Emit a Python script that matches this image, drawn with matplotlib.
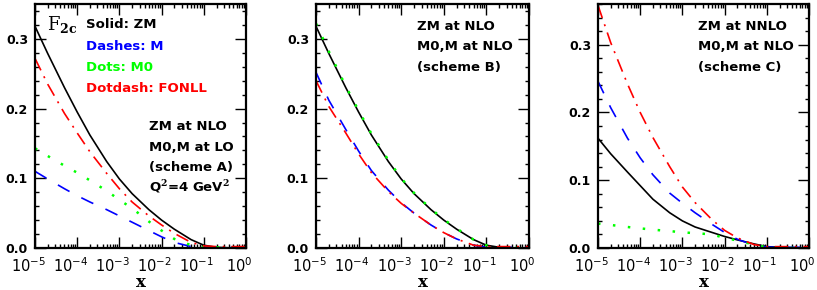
import numpy as np
import matplotlib
matplotlib.use("Agg")
import matplotlib.pyplot as plt
import matplotlib.transforms as mtransforms
from matplotlib.ticker import LogLocator, MultipleLocator, LogFormatterMathtext, NullFormatter, FormatStrFormatter

plt.rcParams['mathtext.fontset'] = 'dejavuserif'

# x grid (values read at these points)
x = [1e-5, 2e-5, 5e-5, 1e-4, 2e-4, 5e-4, 1e-3, 2e-3, 5e-3, 1e-2, 2e-2, 5e-2, 0.1, 0.2, 0.5, 1.0]

# panel A: ZM at NLO, M0/M at LO
zm_nlo = [0.318, 0.279, 0.230, 0.195, 0.162, 0.124, 0.099, 0.078, 0.055, 0.040, 0.027, 0.012, 0.004, 0.001, 0.0, 0.0]
m_lo = [0.110, 0.099, 0.085, 0.075, 0.066, 0.055, 0.046, 0.037, 0.025, 0.016, 0.008, 0.002, 0.001, 0.001, 0.001, 0.001]
m0_lo = [0.143, 0.132, 0.118, 0.108, 0.097, 0.082, 0.069, 0.057, 0.038, 0.025, 0.013, 0.004, 0.001, 0.001, 0.001, 0.001]
fonll_a = [0.272, 0.235, 0.193, 0.165, 0.138, 0.107, 0.085, 0.066, 0.046, 0.033, 0.021, 0.008, 0.003, 0.002, 0.002, 0.002]

# panel B: ZM at NLO, M0/M at NLO
m_nlo = [0.252, 0.212, 0.170, 0.139, 0.111, 0.083, 0.065, 0.050, 0.033, 0.022, 0.013, 0.004, 0.001, 0.001, 0.001, 0.001]
m0_nlo = [0.322, 0.282, 0.232, 0.197, 0.164, 0.126, 0.100, 0.079, 0.056, 0.041, 0.028, 0.012, 0.004, 0.001, 0.0, 0.0]
fonll_b = [0.240, 0.203, 0.165, 0.135, 0.108, 0.081, 0.064, 0.050, 0.033, 0.022, 0.013, 0.004, 0.002, 0.002, 0.002, 0.002]

# panel C: ZM at NNLO, M0/M at NLO
zm_nnlo = [0.162, 0.139, 0.112, 0.092, 0.072, 0.052, 0.040, 0.031, 0.023, 0.017, 0.012, 0.006, 0.002, 0.001, 0.0, 0.0]
m_nlo_c = [0.246, 0.207, 0.162, 0.133, 0.108, 0.081, 0.066, 0.052, 0.035, 0.023, 0.013, 0.004, 0.0015, 0.001, 0.001, 0.001]
m0_nlo_c = [0.036, 0.034, 0.031, 0.029, 0.027, 0.025, 0.023, 0.022, 0.020, 0.015, 0.011, 0.005, 0.001, 0.0, 0.0, 0.0]
fonll_c = [0.358, 0.303, 0.242, 0.200, 0.163, 0.120, 0.090, 0.067, 0.042, 0.026, 0.015, 0.005, 0.002, 0.002, 0.002, 0.002]

panels = [
    dict(zm=zm_nlo, m=m_lo, m0=m0_lo, fonll=fonll_a, ymax=0.35,
         text=["ZM at NLO", "M0,M at LO", "(scheme A)", r"Q$^\mathbf{2}$=4 GeV$^\mathbf{2}$"]),
    dict(zm=zm_nlo, m=m_nlo, m0=m0_nlo, fonll=fonll_b, ymax=0.35,
         text=["ZM at NLO", "M0,M at NLO", "(scheme B)"]),
    dict(zm=zm_nnlo, m=m_nlo_c, m0=m0_nlo_c, fonll=fonll_c, ymax=0.36,
         text=["ZM at NNLO", "M0,M at NLO", "(scheme C)"]),
]

fig = plt.figure(figsize=(8.17, 2.90), dpi=100)
lefts = [35, 316, 598]
widths = [211, 213, 211]
text_x = [0.540, 0.473, 0.4725]
text_y = [[0.496, 0.41, 0.328, 0.25], [0.906, 0.824, 0.738], [0.906, 0.824, 0.738]]
shift = mtransforms.ScaledTranslation(-5 / 72, 0, fig.dpi_scale_trans)

lw = 1.2
for i, p in enumerate(panels):
    ax = fig.add_axes([lefts[i] / 817, 42 / 290, widths[i] / 817, 244 / 290])
    ax.plot(x, p['zm'], color='black', lw=lw)
    ax.plot(x, p['m'], color='#0000ff', lw=lw, dashes=(8, 8))
    ax.plot(x, p['m0'], color='#00ff00', lw=1.8, dashes=(1, 5))
    ax.plot(x, p['fonll'], color='#ff0000', lw=lw, dashes=(8, 4, 1.2, 4))
    ax.set_xscale('log')
    ax.set_xlim(1e-5, 1)
    ax.set_ylim(0, p['ymax'])
    ax.xaxis.set_major_locator(LogLocator(base=10, numticks=10))
    ax.xaxis.set_minor_locator(LogLocator(base=10, subs=np.arange(2, 10), numticks=20))
    ax.xaxis.set_major_formatter(LogFormatterMathtext())
    ax.xaxis.set_minor_formatter(NullFormatter())
    ax.yaxis.set_major_locator(MultipleLocator(0.1))
    ax.yaxis.set_minor_locator(MultipleLocator(0.02))
    ax.yaxis.set_major_formatter(FormatStrFormatter('%.1f'))
    ax.tick_params(which='both', direction='in', top=True, right=True, width=1.0)
    ax.tick_params(which='major', length=8)
    ax.tick_params(which='minor', length=3)
    ax.tick_params(axis='x', labelsize=10.5, pad=6)
    ax.tick_params(axis='y', labelsize=9, pad=5)
    for lab in ax.get_yticklabels():
        lab.set_fontweight('bold')
    for lab in ax.get_xticklabels():
        lab.set_transform(lab.get_transform() + shift)
    for s in ax.spines.values():
        s.set_linewidth(1.6)
    ax.set_xlabel('x', fontsize=12, fontweight='bold', family='DejaVu Serif')
    ax.xaxis.set_label_coords(0.5, -0.105)
    for t, ty in zip(p['text'], text_y[i]):
        ax.text(text_x[i], ty, t, transform=ax.transAxes, fontsize=9.5, fontweight='bold',
                va='center', ha='left')
    if i == 0:
        ax.text(0.057, 0.914, r'$\mathrm{F}_{\mathbf{2c}}$', transform=ax.transAxes,
                fontsize=13, va='center', ha='left')
        legend_txt = ["Solid: ZM", "Dashes: M", "Dots: M0", "Dotdash: FONLL"]
        legend_col = ['black', '#0000ff', '#00ff00', '#ff0000']
        for t, c, ty in zip(legend_txt, legend_col, [0.914, 0.824, 0.738, 0.652]):
            ax.text(0.242, ty, t, transform=ax.transAxes, fontsize=9.5, fontweight='bold',
                    color=c, va='center', ha='left')

fig.savefig('out.png', dpi=100)
